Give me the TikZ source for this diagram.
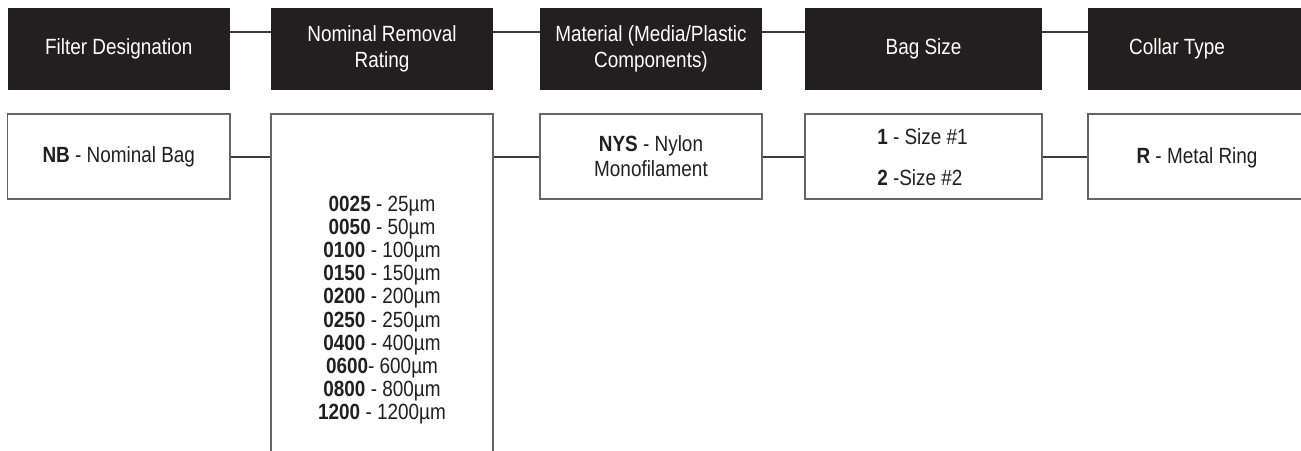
\documentclass[tikz,border=0pt]{standalone}
\usepackage{fontspec}
\setmainfont{Liberation Sans}[FakeStretch=0.86]
\definecolor{hdrfill}{HTML}{231F20}
\definecolor{boxline}{HTML}{666666}
\definecolor{conline}{HTML}{3A3A3A}
\definecolor{txt}{HTML}{231F20}
\begin{document}
\begin{tikzpicture}[x=1pt,y=-1pt,
  hdr/.style={rectangle, fill=hdrfill, draw=none, minimum height=82pt, inner sep=0pt,
    text=white, font=\fontsize{22}{26}\selectfont, align=center},
  hdrtxt/.style={text=white, font=\fontsize{22}{26}\selectfont, align=center, inner sep=0pt},
  opt/.style={rectangle, fill=white, draw=boxline, line width=1.8pt, minimum height=85pt,
    inner sep=0pt, text=txt, font=\fontsize{22}{25}\selectfont, align=center},
  opttxt/.style={text=txt, inner sep=0pt},
  conn/.style={draw=conline, line width=2pt}]
\clip (0,0) rectangle (1301,450);
\fill[white] (0,0) rectangle (1301,450);
% header boxes
\node[hdr, minimum width=222.5pt] (h1) at (118.75,49) {Filter Designation};
\node[hdr, minimum width=222pt] (h2) at (382,49) {Nominal Removal\\Rating};
\node[hdr, minimum width=222pt] (h3) at (651,49) {Material (Media/Plastic\\Components)};
\node[hdr, minimum width=237pt] (h4) at (923.5,49) {Bag Size};
\node[hdr, minimum width=240pt] (h5) at (1208,49) {};
\node[hdrtxt] (h5t) at (1177,49) {Collar Type};
\draw[conn] ([yshift=17pt]h1.east) -- ([yshift=17pt]h2.west);
\draw[conn] ([yshift=17pt]h2.east) -- ([yshift=17pt]h3.west);
\draw[conn] ([yshift=17pt]h3.east) -- ([yshift=17pt]h4.west);
\draw[conn] ([yshift=17pt]h4.east) -- ([yshift=17pt]h5.west);
% option boxes
\node[opt, minimum width=222.5pt] (l1) at (118.75,156.5) {\textbf{NB} - Nominal Bag};
\node[opt, minimum width=222pt, minimum height=356pt] (l2) at (382,292) {};
\node[opttxt, align=center, font=\fontsize{22}{23.2}\selectfont] (l2t) at (382,310) {%
\textbf{0025} - 25µm\\
\textbf{0050} - 50µm\\
\textbf{0100} - 100µm\\
\textbf{0150} - 150µm\\
\textbf{0200} - 200µm\\
\textbf{0250} - 250µm\\
\textbf{0400} - 400µm\\
\textbf{0600}- 600µm\\
\textbf{0800} - 800µm\\
\textbf{1200} - 1200µm};
\node[opt, minimum width=222pt] (l3) at (651,156.5) {\textbf{NYS} - Nylon\\Monofilament};
\node[opt, minimum width=237pt] (l4) at (923.5,156.5) {};
\node[opttxt, align=left, font=\fontsize{22}{41}\selectfont] (l4t) at (922.5,157.5) {\textbf{1} - Size \#1\\\textbf{2} -Size \#2};
\node[opt, minimum width=240pt] (l5) at (1208,156.5) {};
\node[opttxt, font=\fontsize{22}{25}\selectfont] (l5t) at (1197,157.5) {\textbf{R} - Metal Ring};
\draw[conn] (l1.east) -- (l2.west |- l1.east);
\draw[conn] (l2.east |- l1.east) -- (l3.west);
\draw[conn] (l3.east) -- (l4.west);
\draw[conn] (l4.east) -- (l5.west);
\end{tikzpicture}
\end{document}
